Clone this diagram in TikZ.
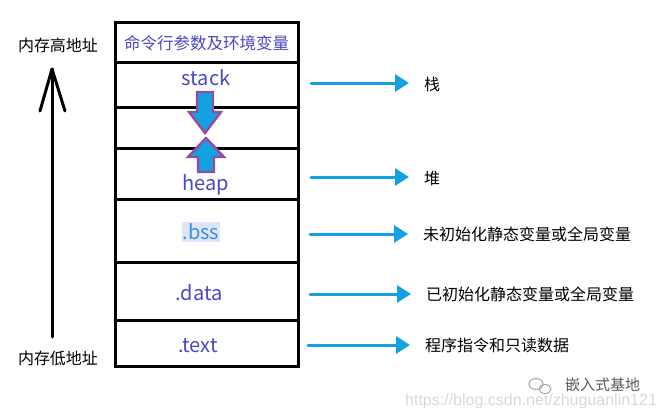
\documentclass[tikz,border=0pt]{standalone}
\usepackage{fontspec}
\setmainfont{Noto Sans CJK SC}
\newfontfamily\wmfont{Liberation Sans}
\usetikzlibrary{positioning,calc,arrows.meta}
\definecolor{segblue}{HTML}{4848C4}
\definecolor{bssblue}{HTML}{3F8FDC}
\definecolor{bsshl}{HTML}{DDE6F8}
\definecolor{arrblue}{HTML}{12A2E2}
\definecolor{arrpurple}{HTML}{9A4A9E}
\tikzset{
  seg/.style={line width=3pt},
  segtext/.style={text=segblue,font=\fontsize{20}{22}\selectfont,inner sep=0pt},
  lbl/.style={anchor=west,inner sep=0pt,font=\fontsize{16}{18}\selectfont},
  rarrow/.style={draw=arrblue,line width=3pt,line cap=round,
    -{Triangle[length=14pt,width=17pt]},shorten >=15pt},
  blockarr/.style={fill=arrblue,draw=arrpurple,line width=2.4pt,line join=miter}
}

\begin{document}
\begin{tikzpicture}[x=1pt,y=-1pt]
\useasboundingbox (0,0) rectangle (662,418);
% memory layout box
\draw[seg] (115,22) rectangle (298,366);
\foreach \y in {62,107,148,199,262,320}
  \draw[seg] (115,\y) -- (298,\y);
\node[text=segblue,inner sep=0pt,font=\fontsize{16.5}{18}\selectfont] (args) at (206.5,43) {命令行参数及环境变量};
\node[segtext] (stack) at (206,78) {stack};
\node[segtext] (heap) at (206,185) {heap};
\node[segtext,text=bssblue,fill=bsshl,inner xsep=1pt,inner ysep=2pt] (bss) at (201,232) {.bss};
\node[segtext] (data) at (199,293) {.data};
\node[segtext] (text) at (198,346) {.text};
% stack grows down, heap grows up
\draw[blockarr] (197,92) -- (213,92) -- (213,112) -- (221,112) -- (205,133)
  -- (189,112) -- (197,112) -- cycle;
\draw[blockarr] (206,138) -- (224,157) -- (214,157) -- (214,172) -- (198,172)
  -- (198,157) -- (188,157) -- cycle;
% address direction
\node[lbl,anchor=center] (high) at (58,45) {内存高地址};
\node[lbl,anchor=center] (low) at (58,358) {内存低地址};
\draw[line width=3pt,line cap=round,line join=round] (52,337) -- (52,69);
\draw[line width=3pt,line cap=round,line join=round] (40,111) -- (52,69) -- (65,111);
% what each part holds
\node[lbl] (zhan) at (424,84) {栈};
\node[lbl] (dui) at (424,178) {堆};
\node[lbl] (uninit) at (423,234) {未初始化静态变量或全局变量};
\node[lbl] (init) at (426,294) {已初始化静态变量或全局变量};
\node[lbl] (code) at (425,345) {程序指令和只读数据};
\coordinate (s1) at (311,83);
\coordinate (s2) at (311,177);
\coordinate (s3) at (310,234);
\coordinate (s4) at (310,294);
\coordinate (s5) at (308,345);
\draw[rarrow] (s1) -- (s1-|zhan.west);
\draw[rarrow] (s2) -- (s2-|dui.west);
\draw[rarrow] (s3) -- (s3-|uninit.west);
\draw[rarrow] (s4) -- (s4-|init.west);
\draw[rarrow] (s5) -- (s5-|code.west);
% watermark
\draw[gray!70,line width=1pt] (536,384) ellipse[x radius=7,y radius=5.5];
\draw[gray!70,line width=1pt] (545,389) ellipse[x radius=6,y radius=4.5];
\node[lbl,text=black!65,font=\fontsize{15}{16}\selectfont] (wm) at (565,385) {嵌入式基地};
\node[lbl,text=black!15,font=\wmfont\fontsize{16}{17}\selectfont] (url) at (405,401) {https://blog.csdn.net/zhuguanlin121};
\end{tikzpicture}
\end{document}
